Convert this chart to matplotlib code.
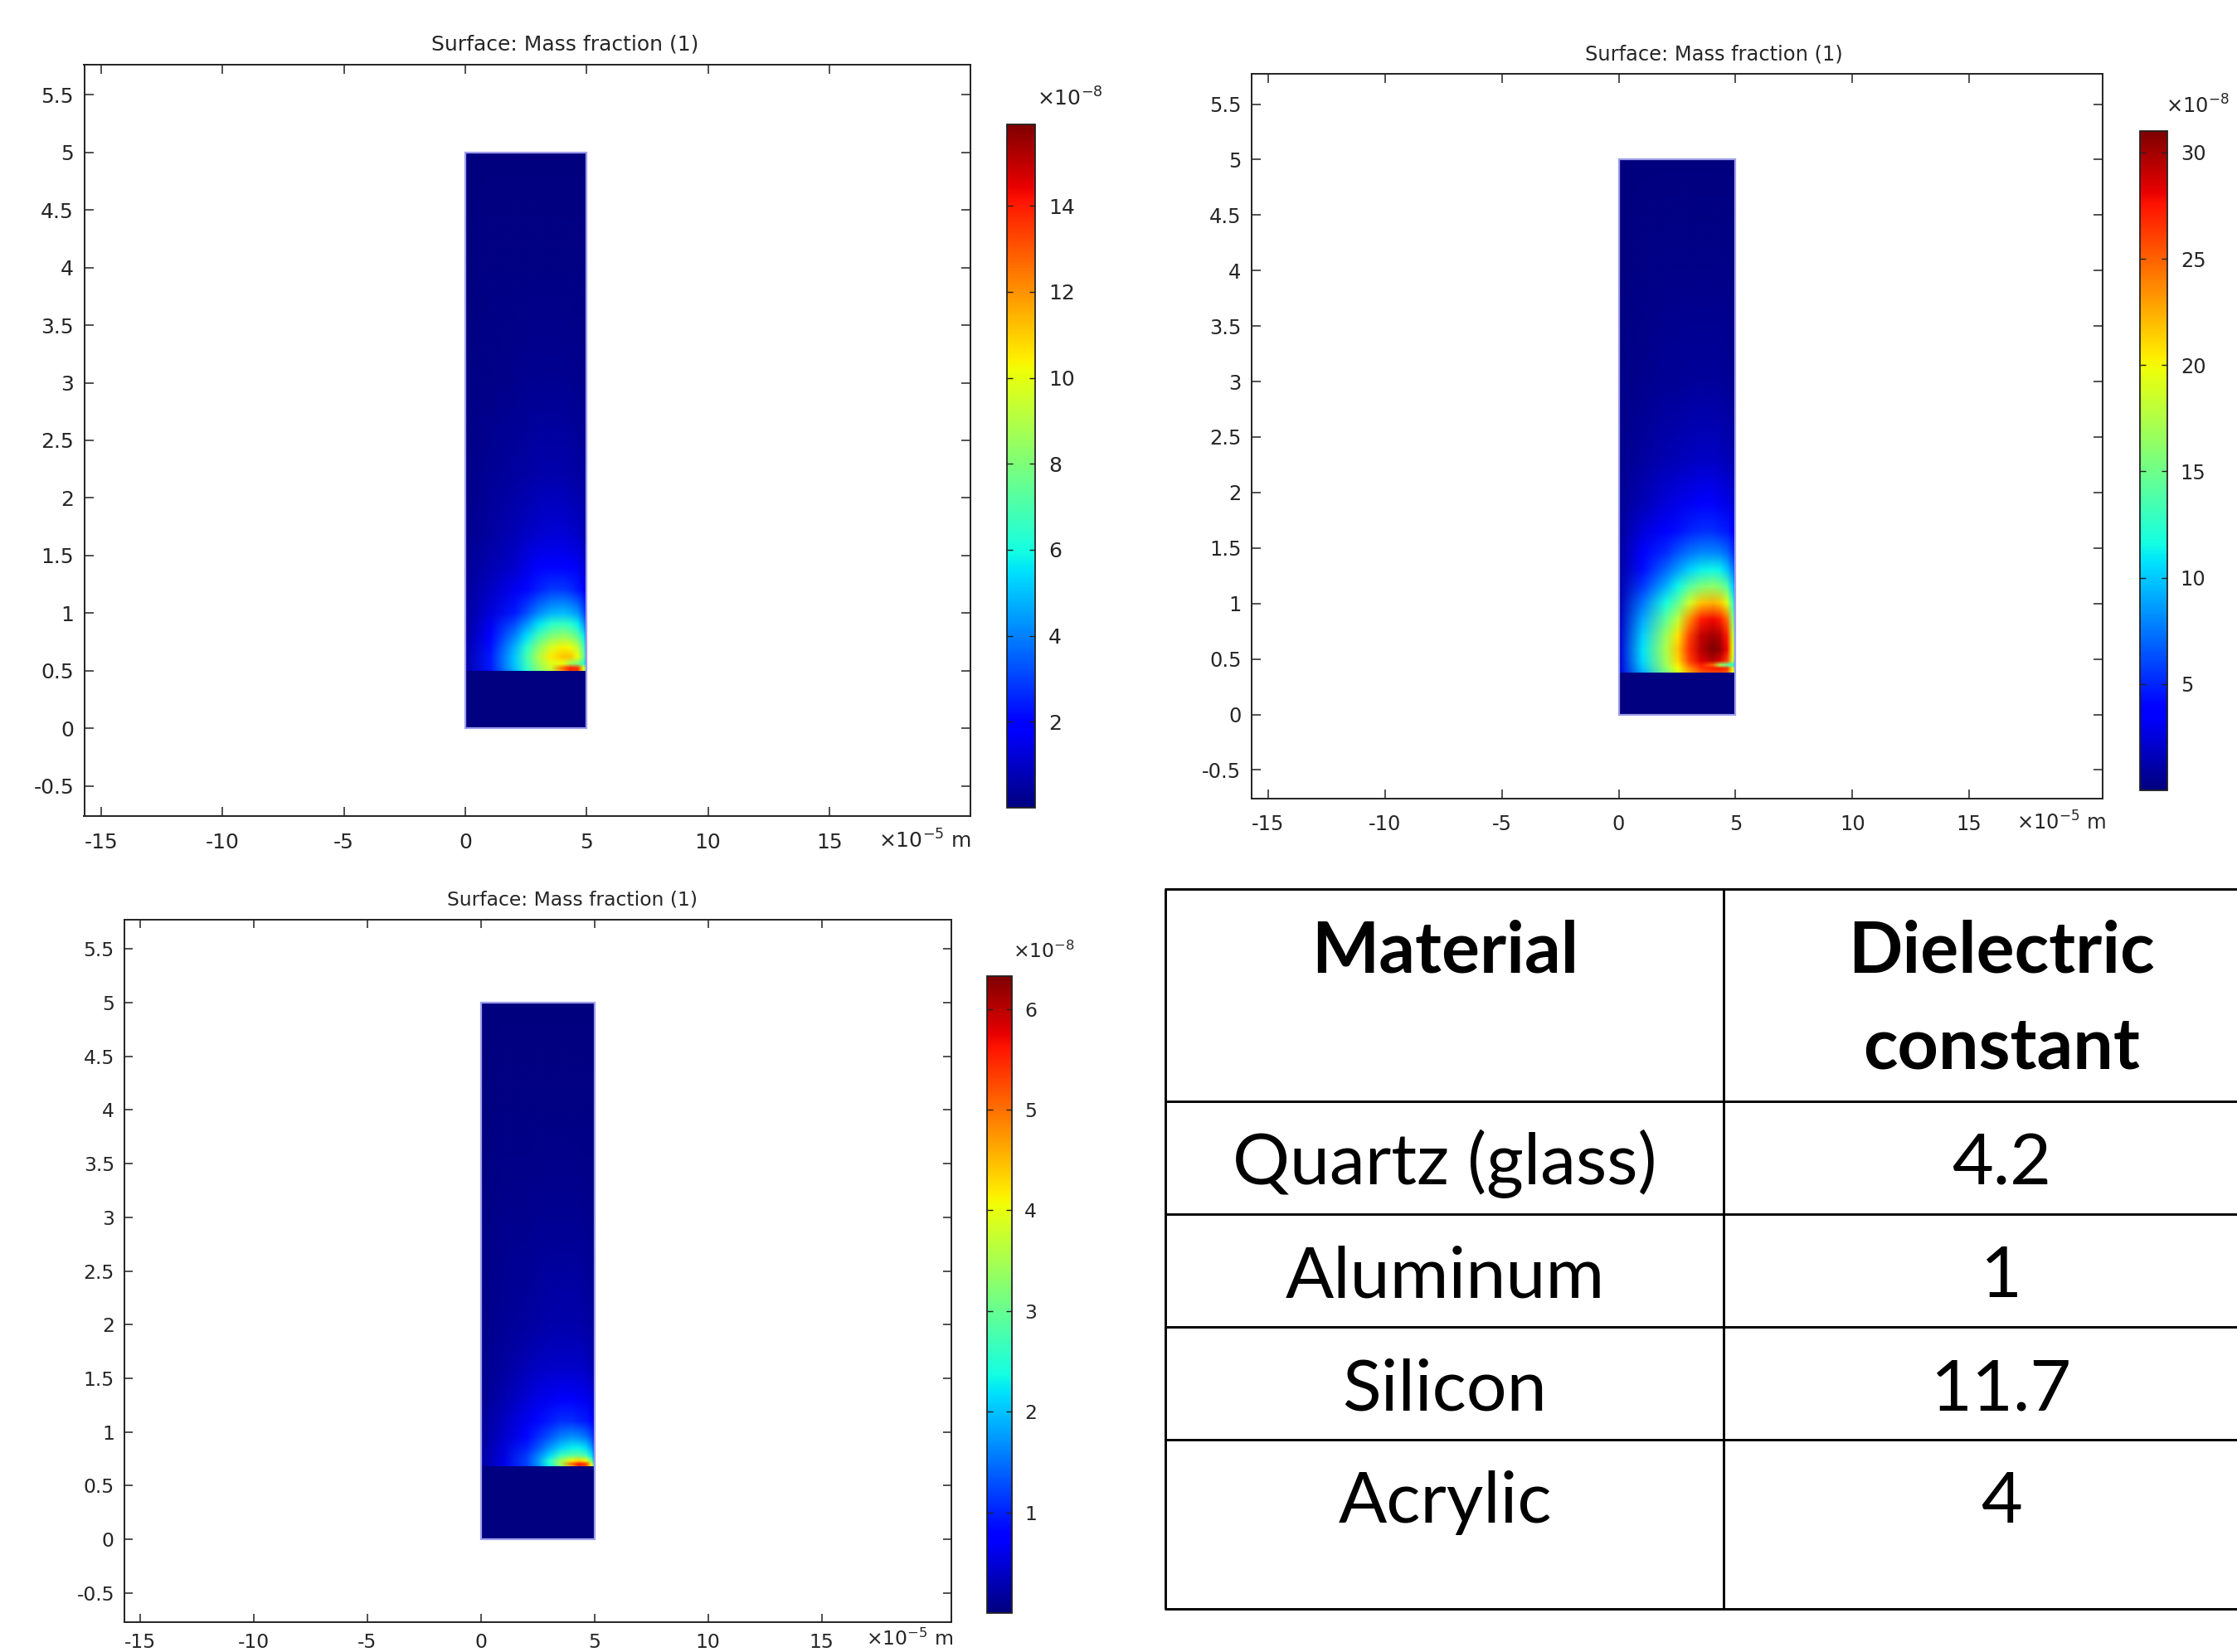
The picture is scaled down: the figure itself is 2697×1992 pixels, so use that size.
import numpy as np
import matplotlib
matplotlib.use("Agg")
import matplotlib.pyplot as plt
from matplotlib.patches import Rectangle
from matplotlib.image import NonUniformImage
from matplotlib.colors import Normalize
from matplotlib.lines import Line2D
from matplotlib.ticker import FuncFormatter

plt.rcParams['axes.unicode_minus'] = False
plt.rcParams['font.family'] = ['DejaVu Sans']
plt.rcParams['mathtext.fontset'] = 'dejavusans'

W, H, DPI = 2697, 1992, 100

# ---------------- data ----------------
plot_title = "Surface: Mass fraction (1)"
x_unit_label = "×10$^{-5}$ m"
cbar_unit_label = "×10$^{-8}$"
x_ticks = [-15, -10, -5, 0, 5, 10, 15]
y_ticks = [-0.5, 0, 0.5, 1, 1.5, 2, 2.5, 3, 3.5, 4, 4.5, 5, 5.5]

domain_x = [0, 5]
domain_y = [0, 5]

# shared x nodes of the sampled field (x10^-5 m)
field_x_nodes = [0, 1, 2, 2.5, 3, 3.5, 4, 4.3, 4.6, 4.85, 5]

# Panel 1 (top left) -- colour level read as fraction of colour-bar maximum
p1_layer_top = 0.5
p1_cmax = 15.9
p1_cticks = [2, 4, 6, 8, 10, 12, 14]
p1_y_nodes = [0.5, 0.52, 0.56, 0.62, 0.7, 0.8, 0.9, 1.0, 1.2, 1.4, 1.7, 2.2, 3.0, 4.0, 5.0]
p1_level = [
    [0.04, 0.14, 0.30, 0.40, 0.50, 0.58, 0.76, 0.86, 0.84, 0.60, 0.32],
    [0.04, 0.15, 0.31, 0.41, 0.52, 0.60, 0.80, 0.88, 0.86, 0.64, 0.32],
    [0.04, 0.15, 0.32, 0.42, 0.54, 0.62, 0.64, 0.55, 0.50, 0.40, 0.24],
    [0.04, 0.15, 0.32, 0.43, 0.56, 0.66, 0.70, 0.70, 0.64, 0.48, 0.27],
    [0.04, 0.14, 0.30, 0.40, 0.52, 0.61, 0.65, 0.64, 0.58, 0.44, 0.25],
    [0.035, 0.12, 0.25, 0.34, 0.43, 0.50, 0.53, 0.51, 0.46, 0.36, 0.21],
    [0.03, 0.10, 0.20, 0.27, 0.35, 0.40, 0.42, 0.40, 0.36, 0.28, 0.17],
    [0.03, 0.08, 0.15, 0.20, 0.26, 0.30, 0.31, 0.30, 0.27, 0.21, 0.13],
    [0.025, 0.06, 0.10, 0.13, 0.16, 0.18, 0.18, 0.17, 0.15, 0.12, 0.08],
    [0.02, 0.045, 0.07, 0.09, 0.11, 0.12, 0.12, 0.11, 0.10, 0.08, 0.06],
    [0.015, 0.03, 0.05, 0.06, 0.07, 0.075, 0.075, 0.07, 0.065, 0.05, 0.035],
    [0.01, 0.02, 0.03, 0.035, 0.04, 0.04, 0.04, 0.038, 0.035, 0.03, 0.02],
    [0.006, 0.01, 0.015, 0.017, 0.018, 0.018, 0.018, 0.017, 0.015, 0.012, 0.008],
    [0.0, 0.004, 0.006, 0.006, 0.007, 0.007, 0.007, 0.007, 0.006, 0.005, 0.0],
    [0.0, 0.0, 0.0, 0.0, 0.0, 0.0, 0.0, 0.0, 0.0, 0.0, 0.0],
]

# Panel 2 (top right)
p2_layer_top = 0.38
p2_cmax = 31.0
p2_cticks = [5, 10, 15, 20, 25, 30]
p2_y_nodes = [0.38, 0.41, 0.44, 0.48, 0.58, 0.70, 0.85, 1.0, 1.15, 1.3, 1.45, 1.65, 1.9, 2.3, 3.0, 4.0, 5.0]
p2_level = [
    [0.08, 0.30, 0.50, 0.62, 0.74, 0.82, 0.84, 0.84, 0.82, 0.64, 0.32],
    [0.08, 0.32, 0.52, 0.64, 0.76, 0.85, 0.88, 0.88, 0.86, 0.66, 0.32],
    [0.08, 0.33, 0.54, 0.66, 0.80, 0.88, 0.80, 0.55, 0.48, 0.38, 0.24],
    [0.08, 0.34, 0.55, 0.68, 0.84, 0.92, 0.95, 0.92, 0.84, 0.60, 0.30],
    [0.08, 0.35, 0.56, 0.70, 0.86, 0.95, 1.00, 0.98, 0.90, 0.64, 0.32],
    [0.07, 0.33, 0.54, 0.67, 0.84, 0.94, 0.97, 0.95, 0.88, 0.60, 0.32],
    [0.06, 0.29, 0.47, 0.58, 0.76, 0.88, 0.90, 0.88, 0.80, 0.52, 0.28],
    [0.05, 0.24, 0.38, 0.47, 0.60, 0.70, 0.72, 0.70, 0.62, 0.42, 0.24],
    [0.04, 0.18, 0.30, 0.37, 0.45, 0.50, 0.52, 0.50, 0.45, 0.33, 0.20],
    [0.035, 0.14, 0.23, 0.28, 0.33, 0.36, 0.37, 0.36, 0.32, 0.25, 0.15],
    [0.03, 0.11, 0.17, 0.21, 0.24, 0.26, 0.26, 0.25, 0.23, 0.18, 0.12],
    [0.025, 0.08, 0.12, 0.14, 0.16, 0.17, 0.17, 0.16, 0.15, 0.12, 0.08],
    [0.02, 0.05, 0.08, 0.09, 0.10, 0.11, 0.11, 0.10, 0.09, 0.08, 0.06],
    [0.015, 0.03, 0.045, 0.05, 0.055, 0.06, 0.06, 0.055, 0.05, 0.045, 0.03],
    [0.008, 0.015, 0.02, 0.022, 0.024, 0.025, 0.025, 0.024, 0.022, 0.018, 0.012],
    [0.0, 0.005, 0.008, 0.008, 0.009, 0.009, 0.009, 0.009, 0.008, 0.006, 0.0],
    [0.0, 0.0, 0.0, 0.0, 0.0, 0.0, 0.0, 0.0, 0.0, 0.0, 0.0],
]

# Panel 3 (bottom left)
p3_layer_top = 0.68
p3_cmax = 6.33
p3_cticks = [1, 2, 3, 4, 5, 6]
p3_y_nodes = [0.68, 0.70, 0.73, 0.78, 0.85, 0.95, 1.1, 1.3, 1.6, 2.0, 3.0, 4.0, 5.0]
p3_level = [
    [0.03, 0.09, 0.18, 0.26, 0.36, 0.52, 0.74, 0.86, 0.82, 0.64, 0.36],
    [0.03, 0.09, 0.19, 0.27, 0.38, 0.55, 0.80, 0.88, 0.84, 0.62, 0.32],
    [0.03, 0.09, 0.19, 0.27, 0.39, 0.54, 0.65, 0.68, 0.64, 0.48, 0.27],
    [0.03, 0.085, 0.18, 0.25, 0.33, 0.42, 0.46, 0.46, 0.43, 0.35, 0.22],
    [0.03, 0.08, 0.16, 0.21, 0.27, 0.33, 0.36, 0.36, 0.34, 0.28, 0.18],
    [0.025, 0.07, 0.13, 0.17, 0.21, 0.25, 0.27, 0.26, 0.24, 0.20, 0.14],
    [0.02, 0.06, 0.10, 0.13, 0.15, 0.17, 0.17, 0.16, 0.15, 0.13, 0.09],
    [0.015, 0.045, 0.075, 0.09, 0.10, 0.11, 0.11, 0.105, 0.10, 0.085, 0.06],
    [0.012, 0.03, 0.05, 0.06, 0.065, 0.065, 0.065, 0.065, 0.06, 0.05, 0.04],
    [0.01, 0.022, 0.03, 0.035, 0.04, 0.04, 0.04, 0.04, 0.035, 0.03, 0.025],
    [0.006, 0.012, 0.015, 0.016, 0.017, 0.017, 0.017, 0.017, 0.015, 0.012, 0.009],
    [0.0, 0.005, 0.006, 0.006, 0.006, 0.006, 0.006, 0.006, 0.006, 0.005, 0.0],
    [0.0, 0.0, 0.0, 0.0, 0.0, 0.0, 0.0, 0.0, 0.0, 0.0, 0.0],
]

# Table
table_header = ["Material", "Dielectric\nconstant"]
materials = ["Quartz (glass)", "Aluminum", "Silicon", "Acrylic"]
dielectric = ["4.2", "1", "11.7", "4"]

# ---------------- layout (pixel boxes: left, top, right, bottom) ----------------
panels = [
    dict(ax=(101.5, 78.0, 1169.6, 984.0), cax=(1214.0, 149.6, 1247.5, 974.0), s=1.0,
         xlim=(-15.70, 20.80), ylim=(-0.76, 5.76), title=(681, 53), cbl=(1250, 128),
         xl=(1171, 1023), xpad=14.5, ytop=p1_layer_top, cmax=p1_cmax, cticks=p1_cticks,
         yn=p1_y_nodes, lev=p1_level),
    dict(ax=(1508.5, 89.4, 2535.4, 963.2), cax=(2580.0, 158.2, 2612.7, 952.9), s=0.965,
         xlim=(-15.73, 20.73), ylim=(-0.76, 5.77), title=(2066, 65), cbl=(2611, 137),
         xl=(2539, 1001), xpad=14.0, ytop=p2_layer_top, cmax=p2_cmax, cticks=p2_cticks,
         yn=p2_y_nodes, lev=p2_level),
    dict(ax=(149.6, 1109.4, 1147.3, 1955.6), cax=(1190.0, 1176.5, 1219.5, 1945.3), s=0.938,
         xlim=(-15.69, 20.71), ylim=(-0.77, 5.77), title=(690, 1085), cbl=(1221, 1155),
         xl=(1149, 1984), xpad=10.0, ytop=p3_layer_top, cmax=p3_cmax, cticks=p3_cticks,
         yn=p3_y_nodes, lev=p3_level),
]

fig = plt.figure(figsize=(W / DPI, H / DPI), dpi=DPI)
fig.patch.set_facecolor('white')


def frac_rect(box):
    l, t, r, b = box
    return [l / W, 1 - b / H, (r - l) / W, (b - t) / H]


def fx(px):
    return px / W


def fy(py):
    return 1 - py / H


cmap = plt.get_cmap('jet')
txt_col = '#262626'
fmt = FuncFormatter(lambda v, p: ('%g' % v))

for P in panels:
    s = P['s']
    fs = 18 * s
    ax = fig.add_axes(frac_rect(P['ax']))
    ax.set_xlim(*P['xlim'])
    ax.set_ylim(*P['ylim'])
    ax.set_xticks(x_ticks)
    ax.set_yticks(y_ticks)
    ax.xaxis.set_major_formatter(fmt)
    ax.yaxis.set_major_formatter(fmt)
    ax.tick_params(direction='in', top=True, right=True, length=8 * s, width=1.1,
                   color='#222222', labelsize=fs, labelcolor=txt_col)
    ax.tick_params(axis='x', pad=P['xpad'] * s)
    ax.tick_params(axis='y', pad=9.0 * s)
    for sp in ax.spines.values():
        sp.set_linewidth(1.4)
        sp.set_color('#222222')

    norm = Normalize(0, P['cmax'])
    values = np.array(P['lev']) * P['cmax']
    im = NonUniformImage(ax, interpolation='bilinear', cmap=cmap, norm=norm)
    im.set_data(np.array(field_x_nodes, float), np.array(P['yn'], float), values)
    ax.add_image(im)
    clip = Rectangle((domain_x[0], P['ytop']), domain_x[1] - domain_x[0],
                     domain_y[1] - P['ytop'], transform=ax.transData)
    im.set_clip_path(clip)
    # lower layer (zero)
    ax.add_patch(Rectangle((domain_x[0], domain_y[0]), domain_x[1] - domain_x[0],
                           P['ytop'] - domain_y[0], facecolor=cmap(norm(0.0)),
                           edgecolor='none', zorder=2))
    # domain outline
    ax.add_patch(Rectangle((domain_x[0], domain_y[0]), domain_x[1] - domain_x[0],
                           domain_y[1] - domain_y[0], fill=False,
                           edgecolor=(0.62, 0.62, 0.92), linewidth=1.6, zorder=3))

    # titles / unit labels
    fig.text(fx(P['title'][0]), fy(P['title'][1]), plot_title, ha='center', va='center',
             fontsize=fs, color=txt_col)
    fig.text(fx(P['xl'][0]), fy(P['xl'][1]), x_unit_label, ha='right', va='baseline',
             fontsize=fs, color=txt_col)

    cax = fig.add_axes(frac_rect(P['cax']))
    cb = fig.colorbar(im, cax=cax)
    cb.set_ticks(P['cticks'])
    cb.ax.yaxis.set_major_formatter(fmt)
    cb.outline.set_linewidth(1.3)
    cb.outline.set_edgecolor('#222222')
    cax.tick_params(direction='in', left=True, right=True, length=5 * s, width=1.0,
                    color='#222222', labelsize=fs, labelcolor=txt_col, pad=12 * s)
    fig.text(fx(P['cbl'][0]), fy(P['cbl'][1]), cbar_unit_label, ha='left', va='baseline',
             fontsize=fs, color=txt_col)

# ---------------- table ----------------
tab = fig.add_axes([0, 0, 1, 1])
tab.set_xlim(0, W)
tab.set_ylim(H, 0)
tab.axis('off')
tab.patch.set_alpha(0)

tbl_left, tbl_div, tbl_right = 1405, 2078, 2760
row_lines = [1071.6, 1328, 1463.7, 1599.6, 1735.5, 1940]
line_kw = dict(color='black', linewidth=2.1, solid_capstyle='butt')
for yl in row_lines:
    tab.add_line(Line2D([tbl_left - 1, tbl_right], [yl, yl], **line_kw))
for xl in (tbl_left, tbl_div):
    tab.add_line(Line2D([xl, xl], [row_lines[0], row_lines[-1]], **line_kw))

col_centers = [1742, 2413]
head_base = 1172
head_step = 116
for cx, head in zip(col_centers, table_header):
    for i, line in enumerate(head.split('\n')):
        tab.text(cx, head_base + i * head_step, line, ha='center', va='baseline',
                 fontsize=62, fontweight='bold', family=['Lato', 'DejaVu Sans'], color='black')

row_base = [1428, 1564, 1700, 1836]
for yb, m, d in zip(row_base, materials, dielectric):
    tab.text(col_centers[0], yb, m, ha='center', va='baseline', fontsize=62,
             family=['Lato', 'DejaVu Sans'], color='black')
    tab.text(col_centers[1], yb, d, ha='center', va='baseline', fontsize=62,
             family=['Lato', 'DejaVu Sans'], color='black')

fig.savefig('out.png', dpi=DPI, facecolor='white')
